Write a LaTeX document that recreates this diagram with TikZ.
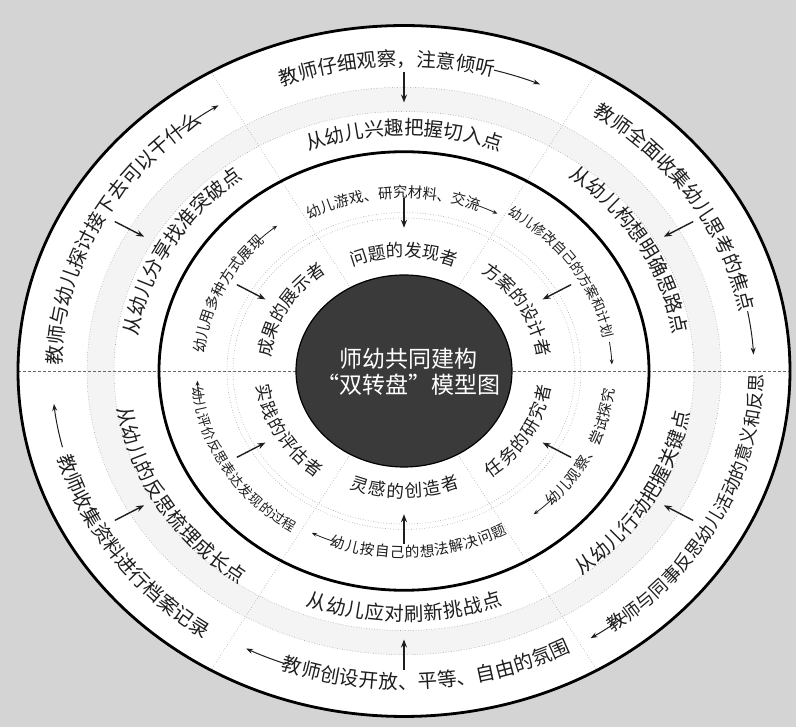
\documentclass[tikz,border=0pt]{standalone}
\usepackage{fontspec}
\newfontfamily\cjk{Noto Sans CJK SC}
\usetikzlibrary{decorations.text,arrows.meta}
\definecolor{bg}{RGB}{212,212,212}
\definecolor{txt}{RGB}{30,30,30}
\definecolor{core}{RGB}{58,58,58}
\definecolor{band}{RGB}{244,244,244}
\def\Ky{0.895}
% text along an upper arc (clockwise), args: centre angle, centre radius, font size, text
\newcommand\ArcTextTop[4]{%
  \pgfmathsetmacro\rb{#2-0.38*#3}%
  \path[decorate,decoration={text along path,text align=center,
    text={|\cjk\fontsize{#3pt}{#3pt}\selectfont\color{txt}|#4}}]
    ({\rb*cos(#1+40)},{\Ky*\rb*sin(#1+40)}) arc[start angle={#1+40},end angle={#1-40},x radius=\rb,y radius={\Ky*\rb}];}
% text along a lower arc (counter-clockwise), args: angle, radius, size, extra spacing, text
\newcommand\ArcTextBot[5]{%
  \pgfmathsetmacro\rb{#2+0.38*#3}%
  \path[decorate,decoration={text along path,text align=center,
    text={|\cjk\fontsize{#3pt}{#3pt}\selectfont\color{txt}\kern#4pt|#5}}]
    ({\rb*cos(#1-40)},{\Ky*\rb*sin(#1-40)}) arc[start angle={#1-40},end angle={#1+40},x radius=\rb,y radius={\Ky*\rb}];}
% tangential arrow: style, radius, from angle, to angle
\newcommand\ArcArrow[4]{%
  \draw[#1] ({#2*cos(#3)},{\Ky*#2*sin(#3)}) arc[start angle=#3,end angle=#4,x radius=#2,y radius={\Ky*#2}];}
% radial arrow: name, style, angle, r from, r to
\newcommand\RadArrow[5]{%
  \coordinate (#1a) at ({#4*cos(#3)},{\Ky*#4*sin(#3)});
  \coordinate (#1b) at ({#5*cos(#3)},{\Ky*#5*sin(#3)});
  \draw[#2] (#1a) -- (#1b);}
\tikzset{
  tarr/.style={-{Stealth[length=7pt,width=5pt]},line width=1pt,draw=txt},
  sarr/.style={-{Stealth[length=5pt,width=4pt]},line width=0.8pt,draw=txt},
  rarr/.style={-{Stealth[length=8pt,width=6pt]},line width=1.4pt,draw=txt},
  guide/.style={draw=gray!75,line width=0.6pt,dotted},
  ring/.style={draw=black,line width=2.8pt}
}
\begin{document}
\begin{tikzpicture}[x=1pt,y=1pt]
\fill[bg] (-404,-356) rectangle (392,371);
\useasboundingbox (-404,-356) rectangle (392,371);
% outer disc
\fill[white] (0,0) ellipse [x radius=386,y radius={\Ky*386}];
\fill[band,even odd rule] (0,0) ellipse [x radius=317,y radius={\Ky*317}]
  (0,0) ellipse [x radius=290,y radius={\Ky*290}];
\draw[guide] (0,0) ellipse [x radius=317,y radius={\Ky*317}];
\draw[guide] (0,0) ellipse [x radius=290,y radius={\Ky*290}];
% radial dividers
\foreach \a in {60,120,240,300}{
  \draw[guide] ({110*cos(\a)},{\Ky*110*sin(\a)}) -- ({386*cos(\a)},{\Ky*386*sin(\a)});
}
\draw[draw=gray!80!black,line width=0.7pt,densely dashed] (-386,0) -- (386,0);
% inner band
\draw[guide] (0,0) ellipse [x radius=177,y radius={\Ky*177}];
\draw[guide] (0,0) ellipse [x radius=171,y radius={\Ky*171}];
\draw[ring] (0,0) ellipse [x radius=245,y radius={\Ky*245}];
\draw[ring] (0,0) ellipse [x radius=386,y radius={\Ky*386}];
% core
\fill[core,draw=black,line width=1.2pt] (0,0) ellipse [x radius=108,y radius=96];
\node[text=white,font=\cjk\fontsize{23pt}{26pt}\selectfont,align=center] (title) at (5,-1)
  {师幼共同建构\\“双转盘”模型图};

% ---- outer ring texts
\ArcTextTop{93}{348}{19.5}{教师仔细观察，注意倾听}
\ArcArrow{tarr}{348}{75}{67}
\ArcTextTop{33}{350}{19.5}{教师全面收集幼儿思考的焦点}
\ArcArrow{tarr}{350}{11}{3}
\ArcTextBot{-27}{352}{18}{0.3}{教师与同事反思幼儿活动的意义和反思}
\ArcArrow{tarr}{352}{-51}{-58}
\ArcTextBot{274}{348}{19.5}{0.4}{教师创设开放、平等、自由的氛围}
\ArcArrow{tarr}{348}{250}{243}
\ArcTextBot{215}{352}{19.5}{0.4}{教师收集资料进行档案记录}
\ArcArrow{tarr}{352}{194}{186}
\ArcTextTop{153}{350}{19.5}{教师与幼儿探讨接下去可以干什么}
\ArcArrow{tarr}{350}{130}{122}

% ---- middle ring texts
\ArcTextTop{90}{271}{19.5}{从幼儿兴趣把握切入点}
\ArcTextTop{30}{280}{19.5}{从幼儿构想明确思路点}
\ArcTextBot{-30}{282}{19.5}{0.6}{从幼儿行动把握关键点}
\ArcTextBot{270}{272}{19.5}{0.6}{从幼儿应对刷新挑战点}
\ArcTextBot{211}{282}{19.5}{0.6}{从幼儿的反思梳理成长点}
\ArcTextTop{150}{276}{19.5}{从幼儿分享找准突破点}

% ---- outer radial arrows
\foreach \a/\n in {90/oa,30/ob,-30/oc,270/od,210/oe,150/of}{
  \RadArrow{\n}{rarr}{\a}{334}{300}
}

% ---- inner small texts
\ArcTextTop{93.4}{199}{14.5}{幼儿游戏、研究材料、交流}
\ArcArrow{sarr}{199}{70}{62}
\ArcTextTop{34}{208}{13.5}{幼儿修改自己的方案和计划}
\ArcArrow{sarr}{208}{9}{2}
\ArcTextBot{-25}{206}{14.5}{0.8}{幼儿观察、尝试探究}
\ArcArrow{sarr}{206}{-43}{-51}
\ArcTextBot{274.5}{203}{14.5}{0.8}{幼儿按自己的想法解决问题}
\ArcArrow{sarr}{203}{251}{243}
\ArcTextBot{211}{207}{13.5}{0.6}{幼儿评价反思表达发现的过程}
\ArcArrow{sarr}{207}{190}{183}
\ArcTextTop{155}{206}{14.5}{幼儿用多种方式展现}
\ArcArrow{sarr}{206}{136}{128}

% ---- inner texts
\ArcTextTop{90}{134}{17.5}{问题的发现者}
\ArcTextTop{30}{141}{17.5}{方案的设计者}
\ArcTextBot{-30}{141}{17.5}{1.6}{任务的研究者}
\ArcTextBot{270}{135}{17.5}{1.6}{灵感的创造者}
\ArcTextBot{209}{141}{17.5}{1.6}{实践的评估者}
\ArcTextTop{150}{141}{17.5}{成果的展示者}

% ---- inner radial arrows
\foreach \a/\n in {90/ia,30/ib,-30/ic,270/id,210/ie,150/if}{
  \RadArrow{\n}{rarr}{\a}{193}{160}
}
\end{tikzpicture}
\end{document}
